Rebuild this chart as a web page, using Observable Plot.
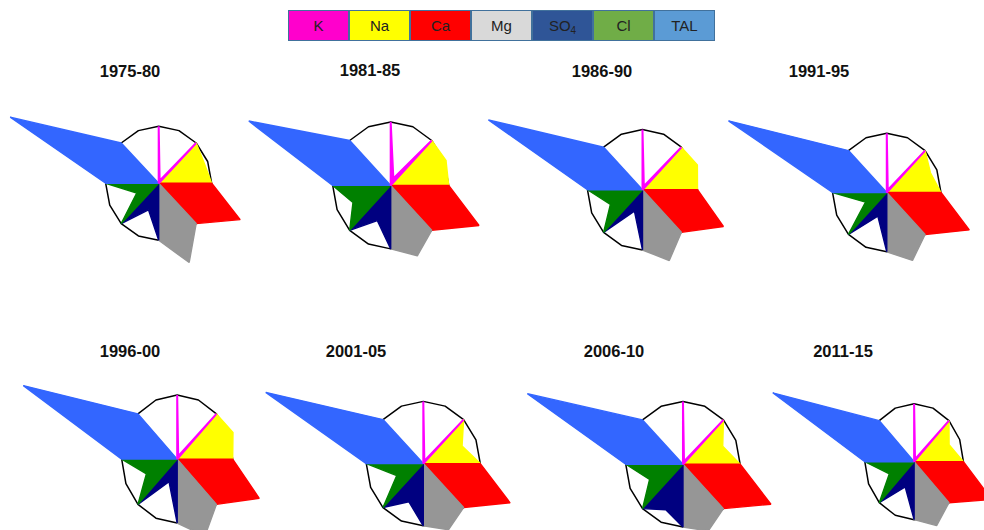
<!DOCTYPE html>
<html>
<head>
<meta charset="utf-8">
<script src="https://cdn.jsdelivr.net/npm/d3@7"></script>
<script src="https://cdn.jsdelivr.net/npm/@observablehq/plot@0.6"></script>
<style>
  body { margin: 0; background: #fff; }
  #chart { position: relative; width: 984px; height: 530px; overflow: hidden; background: #fff;
           font-family: "Liberation Sans", Arial, sans-serif; }
  .legend { position: absolute; left: 288px; top: 10px; display: flex; }
  .legend div { box-sizing: border-box; width: 61px; height: 31px; border: 1px solid #41719c;
                display: flex; align-items: center; justify-content: center;
                font-size: 15px; color: #222; }
  .legend span { line-height: 18px; }
  .legend sub { font-size: 10px; vertical-align: -3px; line-height: 0; }
  .title { position: absolute; width: 120px; text-align: center; font-weight: bold;
           font-size: 16.5px; line-height: 20px; color: #111; }
</style>
</head>
<body>
<div id="chart"></div>
<script>
// Sampling periods
const periods = ["1975-80", "1981-85", "1986-90", "1991-95", "1996-00", "2001-05", "2006-10", "2011-15"];
// Ions, in clockwise order starting from north
const ions = ["K", "Na", "Ca", "Mg", "SO4", "Cl", "TAL"];
// Share of total ionic equivalents (%) for each period
const K   = [0.6, 1.5, 0.8, 0.6, 0.6, 0.6, 0.6, 0.6];
const Na  = [11.6, 12.9, 13.5, 10.9, 13.6, 9.2, 9.4, 9.6];
const Ca  = [20.8, 20.6, 19.9, 20.6, 20.0, 20.6, 20.8, 21.3];
const Mg  = [18.8, 15.0, 15.9, 15.5, 16.3, 14.4, 14.4, 14.9];
const SO4 = [6.3, 7.5, 4.8, 5.4, 4.8, 8.3, 9.8, 5.9];
const Cl  = [5.6, 8.8, 7.9, 5.3, 7.5, 6.3, 7.9, 6.8];
const TAL = [37.9, 33.1, 37.9, 39.5, 37.5, 37.4, 36.8, 38.8];
const series = {K, Na, Ca, Mg, SO4, Cl, TAL};

// Styling
const kiteColors   = {K: "#ff00ff", Na: "#ffff00", Ca: "#ff0000", Mg: "#969696", SO4: "#000080", Cl: "#008000", TAL: "#3366ff"};
const legendColors = {K: "#ff00cc", Na: "#ffff00", Ca: "#ff0000", Mg: "#d9d9d9", SO4: "#2f5597", Cl: "#70ad47", TAL: "#5b9bd5"};
const legendLabels = {K: "K", Na: "Na", Ca: "Ca", Mg: "Mg", SO4: "SO<sub>4</sub>", Cl: "Cl", TAL: "TAL"};

// Panel layout: diagram centre, radii in px, title centre and top
const layout = [
  {cx: 158.0, cy: 183.0, rx: 53.0, ry: 57.0, tx: 130, ty: 61},
  {cx: 390.2, cy: 185.3, rx: 58.0, ry: 63.5, tx: 370, ty: 60},
  {cx: 642.3, cy: 189.0, rx: 55.0, ry: 60.2, tx: 602, ty: 61},
  {cx: 885.8, cy: 191.7, rx: 54.2, ry: 59.3, tx: 819, ty: 61},
  {cx: 177.0, cy: 458.8, rx: 55.5, ry: 64.0, tx: 130, ty: 341},
  {cx: 423.2, cy: 463.0, rx: 57.0, ry: 62.2, tx: 356, ty: 341},
  {cx: 682.2, cy: 463.5, rx: 57.2, ry: 62.7, tx: 614, ty: 341},
  {cx: 913.2, cy: 461.3, rx: 49.3, ry: 58.0, tx: 843, ty: 341}
];

const chart = document.getElementById("chart");

// Legend strip
const legend = document.createElement("div");
legend.className = "legend";
ions.forEach(ion => {
  const box = document.createElement("div");
  box.style.background = legendColors[ion];
  box.innerHTML = "<span>" + legendLabels[ion] + "</span>";
  legend.appendChild(box);
});
chart.appendChild(legend);

// Maucha diagram: 16-gon reference circle of unit radius, one kite per ion.
// Each ion owns a 45° sector; the kite's outer tip lies on the sector bisector
// at distance h so that its area equals the ion's share of the 16-gon area.
const X0 = -3.4, X1 = 2.0, Y0 = -1.6, Y1 = 1.4;
const ring = d3.range(16).map(k => {
  const a = Math.PI / 2 - k * Math.PI / 8;
  return {x: Math.cos(a), y: Math.sin(a)};
});

periods.forEach((period, j) => {
  const L = layout[j];
  const kites = ions.map((ion, i) => {
    const h = 8 * series[ion][j] / 100;
    const a0 = Math.PI / 2 - i * Math.PI / 4;
    const am = a0 - Math.PI / 8;
    const a1 = a0 - Math.PI / 4;
    return {
      ion,
      pts: [
        {x: 0, y: 0},
        {x: Math.cos(a0), y: Math.sin(a0)},
        {x: h * Math.cos(am), y: h * Math.sin(am)},
        {x: Math.cos(a1), y: Math.sin(a1)}
      ]
    };
  });
  // draw potassium last so its thin sliver stays visible
  const order = ["Na", "Ca", "Mg", "SO4", "Cl", "TAL", "K"];
  const w = (X1 - X0) * L.rx, hgt = (Y1 - Y0) * L.ry;
  const svg = Plot.plot({
    width: w,
    height: hgt,
    margin: 0,
    style: {background: "none", overflow: "visible", position: "absolute",
            left: (L.cx + X0 * L.rx) + "px", top: (L.cy - Y1 * L.ry) + "px", maxWidth: "none"},
    x: {domain: [X0, X1], axis: null},
    y: {domain: [Y0, Y1], axis: null},
    marks: [
      Plot.line(ring, {x: "x", y: "y", curve: "linear-closed", stroke: "#000", strokeWidth: 1.5}),
      ...order.map(ion => {
        const k = kites.find(d => d.ion === ion);
        return Plot.line(k.pts, {x: "x", y: "y", curve: "linear-closed",
          fill: kiteColors[ion], stroke: kiteColors[ion],
          strokeWidth: ion === "K" ? 2 : 1.4, strokeLinejoin: "miter"});
      })
    ]
  });
  chart.appendChild(svg);

  const t = document.createElement("div");
  t.className = "title";
  t.textContent = period;
  t.style.left = (L.tx - 60) + "px";
  t.style.top = L.ty + "px";
  chart.appendChild(t);
});
</script>
</body>
</html>
